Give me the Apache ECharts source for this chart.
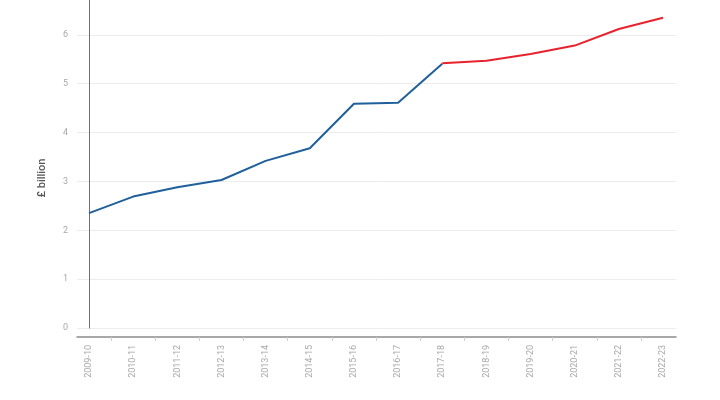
<!DOCTYPE html>
<html lang="en">
<head>
    <meta charset="utf-8">
    <title>£ billion</title>
    <script src="https://cdn.jsdelivr.net/npm/echarts@6/dist/echarts.min.js"></script>
    <style>
        html, body { margin: 0; padding: 0; background: #fff; }
        #main { width: 720px; height: 400px; }
    </style>
</head>
<body>
<div id="main"></div>

<script type="text/javascript">
    // financial years on the x axis
    var years = ['2009-10', '2010-11', '2011-12', '2012-13', '2013-14', '2014-15', '2015-16',
        '2016-17', '2017-18', '2018-19', '2019-20', '2020-21', '2021-22', '2022-23'];

    // outturn (blue) and forecast (red), null where the series has no value
    var outturn = [2.35, 2.69, 2.88, 3.03, 3.42, 3.68, 4.59, 4.61, 5.41,
        null, null, null, null, null];
    var forecast = [null, null, null, null, null, null, null, null, 5.42,
        5.47, 5.61, 5.78, 6.12, 6.35];

    var yTicks = [0, 1, 2, 3, 4, 5, 6];

    // x is a value axis over the year index, so the line can sit inside the grid like the original
    var toPoints = function (arr) {
        return arr.map(function (v, i) { return [i, v]; });
    };
    var labelIdx = years.map(function (y, i) { return i; });
    var tickIdx = years.slice(1).map(function (y, i) { return i + 0.5; });

    var myChart = echarts.init(document.getElementById('main'));

    myChart.setOption({
        animation: false,
        textStyle: { fontFamily: 'Roboto, "Liberation Sans", sans-serif' },
        grid: { left: 77, right: 44, top: -14, bottom: 72, outerBoundsMode: 'none' },
        xAxis: {
            type: 'value',
            min: -0.272,
            max: 13.294,
            offset: 9,
            splitLine: { show: false },
            axisLine: { show: true, onZero: false, lineStyle: { color: '#8c8c8c', width: 1.5 } },
            axisTick: { show: true, customValues: tickIdx, length: 4, lineStyle: { color: '#cfcfcf' } },
            axisLabel: {
                customValues: labelIdx,
                rotate: 90,
                margin: 8,
                fontSize: 9,
                color: '#a8a8a8',
                formatter: function (v) { return years[Math.round(v)]; }
            }
        },
        yAxis: {
            type: 'value',
            min: 0,
            max: 7,
            interval: 1,
            name: '£ billion',
            nameLocation: 'middle',
            nameGap: 29,
            nameTextStyle: { color: '#555', fontSize: 11, fontWeight: 500, padding: [0, 42, 0, 0] },
            axisLine: { show: true, lineStyle: { color: '#707070', width: 1 } },
            axisTick: { show: false },
            axisLabel: {
                margin: 9,
                fontSize: 9,
                color: '#a8a8a8',
                formatter: function (v) { return yTicks.indexOf(v) >= 0 ? String(v) : ''; }
            },
            splitLine: { lineStyle: { color: '#ececec', width: 1 } }
        },
        series: [{
            name: 'Outturn',
            type: 'line',
            data: toPoints(outturn),
            symbol: 'none',
            lineStyle: { color: '#1f5f9c', width: 2 },
            itemStyle: { color: '#1f5f9c' }
        }, {
            name: 'Forecast',
            type: 'line',
            data: toPoints(forecast),
            symbol: 'none',
            lineStyle: { color: '#e8222d', width: 2 },
            itemStyle: { color: '#e8222d' }
        }]
    });
</script>
</body>
</html>
